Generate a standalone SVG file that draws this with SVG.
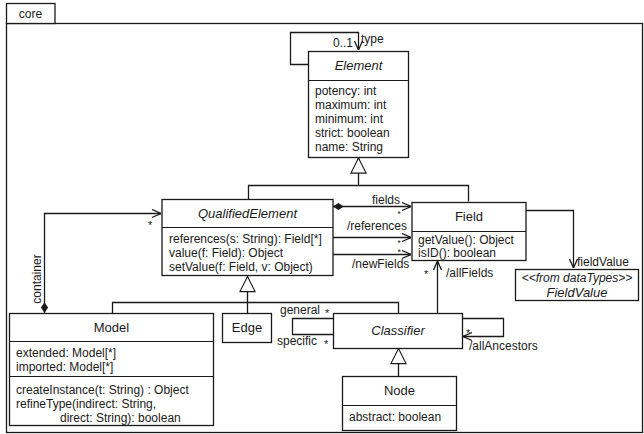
<svg xmlns="http://www.w3.org/2000/svg" width="644" height="434" viewBox="0 0 644 434">
<defs>
<style>
text{font-family:"Liberation Sans",Arial,sans-serif;font-size:12px;fill:#1a1a1a}
.it{font-style:italic}
.c{text-anchor:middle}
.h{font-size:13px}
.st{font-size:11px}
.sm{font-size:8.5px}
.box{fill:#fff;stroke:#1a1a1a;stroke-width:1.3}
.ln{fill:none;stroke:#1a1a1a;stroke-width:1.3}
.sep{stroke:#1a1a1a;stroke-width:1.1}
</style>
<marker id="open" viewBox="0 0 10 10" refX="10" refY="5" markerWidth="10" markerHeight="10" markerUnits="userSpaceOnUse" orient="auto">
<path d="M1,1 L10,5 L1,9" fill="none" stroke="#1a1a1a" stroke-width="1.3"/>
</marker>
<marker id="dia" viewBox="0 0 12 10" refX="0" refY="5" markerWidth="11" markerHeight="9" markerUnits="userSpaceOnUse" orient="auto">
<path d="M0,5 L6,1 L12,5 L6,9 Z" fill="#1a1a1a"/>
</marker>
<marker id="gen" viewBox="0 0 18 18" refX="17" refY="9" markerWidth="17" markerHeight="17" markerUnits="userSpaceOnUse" orient="auto">
<path d="M17,9 L1,1 L1,17 Z" fill="#fff" stroke="#1a1a1a" stroke-width="1.2"/>
</marker>
</defs>
<g id="frame">
<rect x="6.5" y="23.5" width="636" height="409" class="box"/>
<rect x="6.5" y="3.5" width="48.5" height="20" class="box"/>
<text x="30.5" y="18" class="c">core</text>
</g>
<g id="connectors">
<path d="M308,64.5 H290.5 V32.5 H358.5 V50" class="ln" marker-end="url(#open)"/>
<text x="333" y="47">0..1</text>
<text x="361" y="43">type</text>
<path d="M248.5,199 V185.5 H468.5 V201.5 M358.5,185.5 V158" class="ln"/>
<path d="M358.5,173.5 V158" class="ln" marker-end="url(#gen)"/>
<path d="M333,206.5 H411" class="ln" marker-start="url(#dia)" marker-end="url(#open)"/>
<text x="372" y="204">fields</text>
<text x="397.5" y="217" class="sm">*</text>
<text x="347" y="230">/references</text>
<path d="M333,237.5 H411" class="ln" marker-end="url(#open)"/>
<text x="397.5" y="245.5" class="sm">*</text>
<path d="M333,254.5 H411" class="ln" marker-end="url(#open)"/>
<text x="397.5" y="255" class="sm">*</text>
<text x="352" y="267.5">/newFields</text>
<path d="M526,210.5 H573.5 V268" class="ln" marker-end="url(#open)"/>
<text x="577" y="266">fieldValue</text>
<path d="M44.5,313 V213.5 H161" class="ln" marker-start="url(#dia)" marker-end="url(#open)"/>
<text x="148" y="229" class="st">*</text>
<text transform="translate(41,279) rotate(-90)" class="c">container</text>
<path d="M112.5,313 V302.5 H398.5 V313 M247.5,313 V292" class="ln"/>
<path d="M247.5,292 V276.5" class="ln" marker-end="url(#gen)"/>
<path d="M437.5,313 V261" class="ln" marker-end="url(#open)"/>
<text x="424" y="278" class="st">*</text>
<text x="446" y="277">/allFields</text>
<path d="M333,318.5 H292.5 V334.5 H333" class="ln"/>
<text x="280" y="314">general</text>
<text x="325" y="317" class="st">*</text>
<text x="277" y="345">specific</text>
<text x="324" y="348" class="st">*</text>
<path d="M462,318.5 H503.5 V336.5 H463" class="ln" marker-end="url(#open)"/>
<text x="466" y="337" class="st">*</text>
<text x="469" y="350">/allAncestors</text>
<path d="M398.5,376 V364" class="ln"/>
<path d="M398.5,364 V348.5" class="ln" marker-end="url(#gen)"/>
</g>
<g id="Element">
<rect x="308.5" y="51.5" width="100" height="106" class="box"/>
<line x1="308.5" y1="80.5" x2="408.5" y2="80.5" class="sep"/>
<text x="358.5" y="70" class="c it h">Element</text>
<text x="315" y="95">potency: int</text>
<text x="315" y="109">maximum: int</text>
<text x="315" y="123">minimum: int</text>
<text x="315" y="137">strict: boolean</text>
<text x="315" y="151">name: String</text>
</g>
<g id="QualifiedElement">
<rect x="162" y="199.5" width="171" height="76" class="box"/>
<line x1="162" y1="227.5" x2="333" y2="227.5" class="sep"/>
<text x="247.5" y="218" class="c it h">QualifiedElement</text>
<text x="169" y="243">references(s: String): Field[*]</text>
<text x="169" y="257">value(f: Field): Object</text>
<text x="169" y="271">setValue(f: Field, v: Object)</text>
</g>
<g id="Field">
<rect x="412" y="202.5" width="114" height="58" class="box"/>
<line x1="412" y1="231.5" x2="526" y2="231.5" class="sep"/>
<text x="469" y="221" class="c h">Field</text>
<text x="418" y="244">getValue(): Object</text>
<text x="418" y="257">isID(): boolean</text>
</g>
<g id="FieldValue">
<rect x="515.5" y="269.5" width="123" height="31" class="box"/>
<text x="577" y="282" class="c it">&lt;&lt;from dataTypes&gt;&gt;</text>
<text x="577" y="297" class="c it h">FieldValue</text>
</g>
<g id="Model">
<rect x="9.5" y="313.5" width="204" height="112" class="box"/>
<line x1="9.5" y1="341.5" x2="213.5" y2="341.5" class="sep"/>
<line x1="9.5" y1="376.5" x2="213.5" y2="376.5" class="sep"/>
<text x="111.5" y="332" class="c h">Model</text>
<text x="16" y="357">extended: Model[*]</text>
<text x="16" y="371">imported: Model[*]</text>
<text x="16" y="394">createInstance(t: String) : Object</text>
<text x="16" y="408">refineType(indirect: String,</text>
<text x="60" y="422">direct: String): boolean</text>
</g>
<g id="Edge">
<rect x="222.5" y="313.5" width="49" height="29" class="box"/>
<text x="247" y="332" class="c h">Edge</text>
</g>
<g id="Classifier">
<rect x="333.5" y="313.5" width="129" height="35" class="box"/>
<text x="398" y="335" class="c it h">Classifier</text>
</g>
<g id="Node">
<rect x="342.5" y="376.5" width="114" height="54" class="box"/>
<line x1="342.5" y1="405.5" x2="456.5" y2="405.5" class="sep"/>
<text x="399.5" y="395" class="c h">Node</text>
<text x="349" y="421">abstract: boolean</text>
</g>
</svg>
